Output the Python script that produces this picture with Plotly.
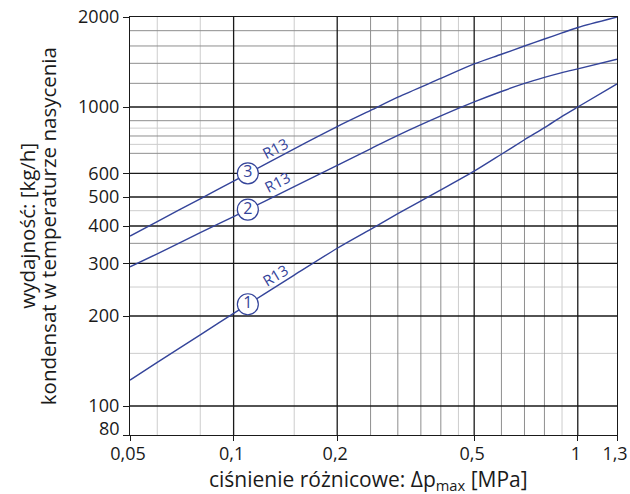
import math
import plotly.graph_objects as go

# ---- data ----
dp = [0.05, 0.06, 0.08, 0.1, 0.15, 0.2, 0.25, 0.3, 0.4, 0.5, 0.6, 0.7, 0.8, 0.9, 1.0, 1.3]
curve1 = [122, 140, 173, 204, 274, 337, 390, 440, 528, 610, 695, 777, 853, 930, 1000, 1195]
curve2 = [292, 323, 380, 430, 542, 638, 725, 804, 934, 1040, 1127, 1199, 1256, 1303, 1342, 1444]
curve3 = [370, 414, 493, 565, 725, 860, 974, 1079, 1246, 1393, 1501, 1600, 1688, 1769, 1845, 2000]
curve_names = ["1", "2", "3"]
curve_refrigerant = ["R13", "R13", "R13"]
label_x = 0.11
label_y = [219, 454, 600]

x_tickvals = [0.05, 0.1, 0.2, 0.5, 1.0, 1.3]
x_ticktext = ["0,05", "0,1", "0,2", "0,5", "1", "1,3"]
y_tickvals = [80, 100, 200, 300, 400, 500, 600, 1000, 2000]
y_ticktext = ["80", "100", "200", "300", "400", "500", "600", "1000", "2000"]

x_grid_major = [0.1, 0.2, 0.5, 1.0]
x_grid_mid = [0.25, 0.3, 0.35, 0.4, 0.6, 0.7, 0.8]
x_grid_light = [0.06, 0.08, 0.15, 0.45, 0.9]
y_grid_major = [100, 200, 300, 400, 500, 600, 1000]
y_grid_mid = [350, 700, 800, 900, 1200, 1400, 1600, 1800]
y_grid_light = [150, 250, 450, 750, 850]

X_MIN, X_MAX = 0.05, 1.3
Y_MIN, Y_MAX = 80, 2000

BLUE = "#34449a"
INK = "#1a1a1a"
FONT = "Open Sans"

fig = go.Figure()

def grid_trace(xv, yv, color, width):
    xs, ys = [], []
    for v in xv:
        xs += [v, v, None]
        ys += [Y_MIN, Y_MAX, None]
    for v in yv:
        xs += [X_MIN, X_MAX, None]
        ys += [v, v, None]
    fig.add_trace(go.Scatter(x=xs, y=ys, mode="lines", line=dict(color=color, width=width),
                             hoverinfo="skip", showlegend=False, connectgaps=False))

grid_trace(x_grid_light, y_grid_light, "#cdcdcd", 1)
grid_trace(x_grid_mid, y_grid_mid, "#8e8e8e", 1)
grid_trace(x_grid_major, y_grid_major, INK, 1.3)

for ys in [curve1, curve2, curve3]:
    fig.add_trace(go.Scatter(x=dp, y=ys, mode="lines",
                             line=dict(color=BLUE, width=1.4, shape="spline", smoothing=0.8),
                             hoverinfo="skip", showlegend=False))

fig.add_trace(go.Scatter(x=[label_x] * 3, y=label_y, mode="markers+text",
                         text=curve_names, textposition="middle center",
                         textfont=dict(family=FONT, size=16, color=BLUE),
                         marker=dict(symbol="circle", size=21, color="white",
                                     line=dict(color=BLUE, width=1.2)),
                         hoverinfo="skip", showlegend=False))

annotations = []
r13_pos = [(0.132, 274, -31), (0.1335, 562, -27), (0.132, 727, -28)]
for (xv, yv, ang), txt in zip(r13_pos, curve_refrigerant):
    annotations.append(dict(x=math.log10(xv), y=math.log10(yv), xref="x", yref="y",
                            text=txt, showarrow=False, textangle=ang,
                            font=dict(family=FONT, size=15, color=BLUE)))

# the lowest y tick label sits slightly above its tick (as in the reference)
y_ticktext_axis = [""] + y_ticktext[1:]
annotations.append(dict(x=0, y=math.log10(y_tickvals[0]), xref="paper", yref="y",
                        xanchor="right", yanchor="middle", xshift=-8, yshift=7,
                        text=y_ticktext[0], showarrow=False,
                        font=dict(family=FONT, size=18, color=INK)))

annotations.append(dict(x=0.49, y=-0.107, xref="paper", yref="paper",
                        xanchor="center", yanchor="middle",
                        text="ciśnienie różnicowe: Δp<sub>max</sub> [MPa]", showarrow=False,
                        font=dict(family=FONT, size=21, color=INK)))
annotations.append(dict(x=-0.212, y=0.5, xref="paper", yref="paper",
                        xanchor="center", yanchor="middle",
                        text="wydajność: [kg/h]", textangle=-90, showarrow=False,
                        font=dict(family=FONT, size=20.5, color=INK)))
annotations.append(dict(x=-0.168, y=0.5, xref="paper", yref="paper",
                        xanchor="center", yanchor="middle",
                        text="kondensat w temperaturze nasycenia", textangle=-90, showarrow=False,
                        font=dict(family=FONT, size=20.5, color=INK)))

fig.update_layout(
    width=630, height=494,
    margin=dict(l=130, r=13, t=17, b=59, autoexpand=False),
    paper_bgcolor="white", plot_bgcolor="white",
    annotations=annotations,
    font=dict(family=FONT, size=18, color=INK),
)
axis_common = dict(type="log", showgrid=False, zeroline=False, automargin=False,
                   showline=True, linecolor=INK, linewidth=1.3, mirror=True,
                   ticks="outside", tickcolor=INK, tickwidth=1,
                   tickfont=dict(family=FONT, size=18, color=INK))
fig.update_xaxes(range=[math.log10(X_MIN), math.log10(X_MAX)], ticklen=5, ticklabelshift=-2,
                 ticklabelstandoff=-3,
                 tickvals=x_tickvals, ticktext=x_ticktext, **axis_common)
fig.update_yaxes(range=[math.log10(Y_MIN), math.log10(Y_MAX)], ticklen=6,
                 tickvals=y_tickvals, ticktext=y_ticktext_axis, **axis_common)

fig.write_html("out.html", config={"displayModeBar": False},
               post_script="document.body.style.margin='0px';document.body.style.padding='0px';")
